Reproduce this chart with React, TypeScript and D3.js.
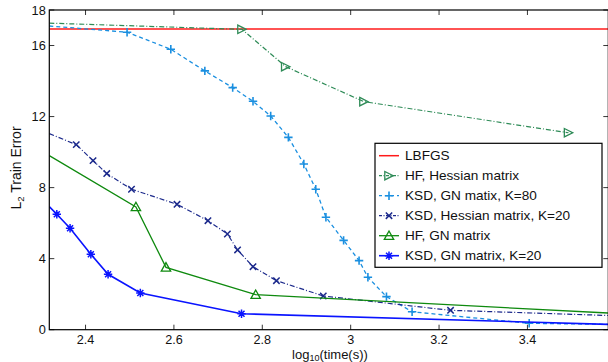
import { useEffect, useRef } from 'react';
import * as d3 from 'd3';

// x: log10(time(s)), y: L2 train error
const lbfgsX = [2.318, 3.583];
const lbfgsY = [16.93, 16.93];

const hfHessX = [2.318, 2.754, 2.853, 3.03, 3.493];
const hfHessY = [17.26, 16.91, 14.81, 12.84, 11.09];

const ksd80X = [2.318, 2.494, 2.593, 2.67, 2.733, 2.779, 2.819, 2.859, 2.894, 2.921, 2.944, 2.984, 3.019, 3.039, 3.081, 3.139, 3.404, 3.583];
const ksd80Y = [17.1, 16.75, 15.79, 14.57, 13.63, 12.86, 12.03, 10.83, 9.33, 7.91, 6.33, 5.03, 3.89, 2.95, 1.86, 1.01, 0.36, 0.3];

const ksdHessX = [2.318, 2.379, 2.417, 2.448, 2.504, 2.607, 2.677, 2.721, 2.744, 2.779, 2.832, 2.938, 3.226, 3.583];
const ksdHessY = [11.04, 10.42, 9.52, 8.79, 7.91, 7.06, 6.14, 5.39, 4.49, 3.55, 2.76, 1.9, 1.09, 0.8];

const hfGnX = [2.318, 2.514, 2.582, 2.785, 3.583];
const hfGnY = [9.8, 6.91, 3.51, 1.97, 0.94];

const ksd20X = [2.318, 2.335, 2.365, 2.412, 2.451, 2.524, 2.753, 3.583];
const ksd20Y = [6.93, 6.5, 5.71, 4.25, 3.12, 2.07, 0.9, 0.3];

const xTicks = [2.4, 2.6, 2.8, 3, 3.2, 3.4];
const yTicks = [0, 4, 8, 12, 16, 18];

type Marker = 'none' | 'triRight' | 'plus' | 'cross' | 'triUp' | 'star';

const series = [
  { name: 'LBFGS', xs: lbfgsX, ys: lbfgsY, color: '#ff1a1a', dash: null, width: 1.5, marker: 'none' as Marker },
  { name: 'HF, Hessian matrix', xs: hfHessX, ys: hfHessY, color: '#2e8b57', dash: '5,2,1,2', width: 1.2, marker: 'triRight' as Marker },
  { name: 'KSD, GN matix, K=80', xs: ksd80X, ys: ksd80Y, color: '#1a8fe0', dash: '4,3', width: 1.3, marker: 'plus' as Marker },
  { name: 'KSD, Hessian matrix, K=20', xs: ksdHessX, ys: ksdHessY, color: '#1c2a8c', dash: '5,2,1,2', width: 1.2, marker: 'cross' as Marker },
  { name: 'HF, GN matrix', xs: hfGnX, ys: hfGnY, color: '#0f8a0f', dash: null, width: 1.3, marker: 'triUp' as Marker },
  { name: 'KSD, GN matrix, K=20', xs: ksd20X, ys: ksd20Y, color: '#0a14ff', dash: null, width: 1.6, marker: 'star' as Marker },
];

const FONT = '"Liberation Sans", Arial, sans-serif';

type G = d3.Selection<SVGGElement, unknown, null, undefined>;

function drawMarker(g: G, kind: Marker, cx: number, cy: number, color: string) {
  const s = 4.2;
  if (kind === 'triRight') {
    g.append('path')
      .attr('d', `M${cx - s},${cy - s}L${cx + s},${cy}L${cx - s},${cy + s}Z`)
      .attr('fill', 'none').attr('stroke', color).attr('stroke-width', 1.3);
  } else if (kind === 'triUp') {
    g.append('path')
      .attr('d', `M${cx},${cy - s - 0.5}L${cx + s + 0.5},${cy + s - 0.5}L${cx - s - 0.5},${cy + s - 0.5}Z`)
      .attr('fill', 'none').attr('stroke', color).attr('stroke-width', 1.3);
  } else if (kind === 'plus') {
    g.append('path')
      .attr('d', `M${cx - s},${cy}L${cx + s},${cy}M${cx},${cy - s}L${cx},${cy + s}`)
      .attr('stroke', color).attr('stroke-width', 1.6);
  } else if (kind === 'cross') {
    const c = 3.2;
    g.append('path')
      .attr('d', `M${cx - c},${cy - c}L${cx + c},${cy + c}M${cx - c},${cy + c}L${cx + c},${cy - c}`)
      .attr('stroke', color).attr('stroke-width', 1.5);
  } else if (kind === 'star') {
    const c = 3;
    g.append('path')
      .attr('d', `M${cx - s},${cy}L${cx + s},${cy}M${cx},${cy - s}L${cx},${cy + s}M${cx - c},${cy - c}L${cx + c},${cy + c}M${cx - c},${cy + c}L${cx + c},${cy - c}`)
      .attr('stroke', color).attr('stroke-width', 1.5);
  }
}

export default function App() {
  const svgRef = useRef<SVGSVGElement>(null);

  useEffect(() => {
    document.body.style.margin = '0';
    if (!svgRef.current) return;
    const W = 608, H = 362;
    const left = 49.3, right = 608.3, top = 10, bottom = 329.7;

    d3.select(svgRef.current).selectAll('*').remove();
    const svg = d3.select(svgRef.current).attr('width', W).attr('height', H);

    const x = d3.scaleLinear().domain([2.318, 3.583]).range([left, right]);
    const y = d3.scaleLinear().domain([0, 18]).range([bottom, top]);

    svg.append('rect').attr('width', W).attr('height', H).attr('fill', '#fff');

    svg.append('defs').append('clipPath').attr('id', 'plotclip')
      .append('rect').attr('x', left).attr('y', top).attr('width', right - left).attr('height', bottom - top);

    const plot = svg.append('g').attr('clip-path', 'url(#plotclip)');

    series.forEach((s) => {
      const pts = s.xs.map((xv, i) => [x(xv), y(s.ys[i])] as [number, number]);
      const path = plot.append('path')
        .attr('d', d3.line()(pts))
        .attr('fill', 'none')
        .attr('stroke', s.color)
        .attr('stroke-width', s.width);
      if (s.dash) path.attr('stroke-dasharray', s.dash);
      const mg = plot.append('g') as unknown as G;
      s.xs.forEach((xv, i) => {
        if (xv <= 2.32 || xv >= 3.58) return;
        drawMarker(mg, s.marker, x(xv), y(s.ys[i]), s.color);
      });
    });

    // box and ticks
    const axes = svg.append('g').attr('stroke', '#000').attr('stroke-width', 1.2);
    axes.append('rect').attr('x', left).attr('y', top).attr('width', right - left).attr('height', bottom - top).attr('fill', 'none');
    xTicks.forEach((t) => {
      axes.append('line').attr('x1', x(t)).attr('x2', x(t)).attr('y1', bottom).attr('y2', bottom - 5).attr('stroke-width', 0.8);
      axes.append('line').attr('x1', x(t)).attr('x2', x(t)).attr('y1', top).attr('y2', top + 5).attr('stroke-width', 0.8);
    });
    yTicks.forEach((t) => {
      axes.append('line').attr('x1', left).attr('x2', left + 5).attr('y1', y(t)).attr('y2', y(t)).attr('stroke-width', 0.8);
      axes.append('line').attr('x1', right).attr('x2', right - 5).attr('y1', y(t)).attr('y2', y(t)).attr('stroke-width', 0.8);
    });

    const fmt = d3.format('');
    svg.selectAll('.xt').data(xTicks).enter().append('text')
      .attr('x', (d) => x(d)).attr('y', bottom + 14.4)
      .attr('text-anchor', 'middle').attr('font-family', FONT).attr('font-size', 12.6).attr('fill', '#111')
      .text((d) => fmt(d));
    svg.selectAll('.yt').data(yTicks).enter().append('text')
      .attr('x', left - 3.5).attr('y', (d) => y(d) + 4.5)
      .attr('text-anchor', 'end').attr('font-family', FONT).attr('font-size', 12.8).attr('fill', '#111')
      .text((d) => fmt(d));

    // axis titles
    const xl = svg.append('text').attr('x', 330).attr('y', 359).attr('text-anchor', 'middle')
      .attr('font-family', FONT).attr('font-size', 13).attr('fill', '#111');
    xl.append('tspan').text('log');
    xl.append('tspan').text('10').attr('font-size', 9).attr('dy', 2.2);
    xl.append('tspan').text('(time(s))').attr('dy', -2.2);

    const yl = svg.append('text').attr('transform', `translate(20.5,${168}) rotate(-90)`).attr('text-anchor', 'middle')
      .attr('font-family', FONT).attr('font-size', 14).attr('fill', '#111');
    yl.append('tspan').text('L');
    yl.append('tspan').text('2').attr('font-size', 9.5).attr('dy', 3.5);
    yl.append('tspan').text(' Train Error').attr('dy', -3.5);

    // legend
    const lg = svg.append('g');
    lg.append('rect').attr('x', 375).attr('y', 143.3).attr('width', 227).attr('height', 124)
      .attr('fill', '#fff').attr('stroke', '#000').attr('stroke-width', 1.2);
    series.forEach((s, i) => {
      const cy = 155.7 + i * 20;
      const l = lg.append('line').attr('x1', 379).attr('x2', 399).attr('y1', cy).attr('y2', cy)
        .attr('stroke', s.color).attr('stroke-width', s.width);
      if (s.dash) l.attr('stroke-dasharray', s.dash === '4,3' ? '3,3' : '3,1.5,1,1.5');
      drawMarker(lg as unknown as G, s.marker, 389, cy, s.color);
      lg.append('text').attr('x', 405).attr('y', cy + 4.6)
        .attr('font-family', FONT).attr('font-size', 13.6).attr('fill', '#111').text(s.name);
    });
  }, []);

  return <svg ref={svgRef} style={{ display: 'block' }} />;
}
